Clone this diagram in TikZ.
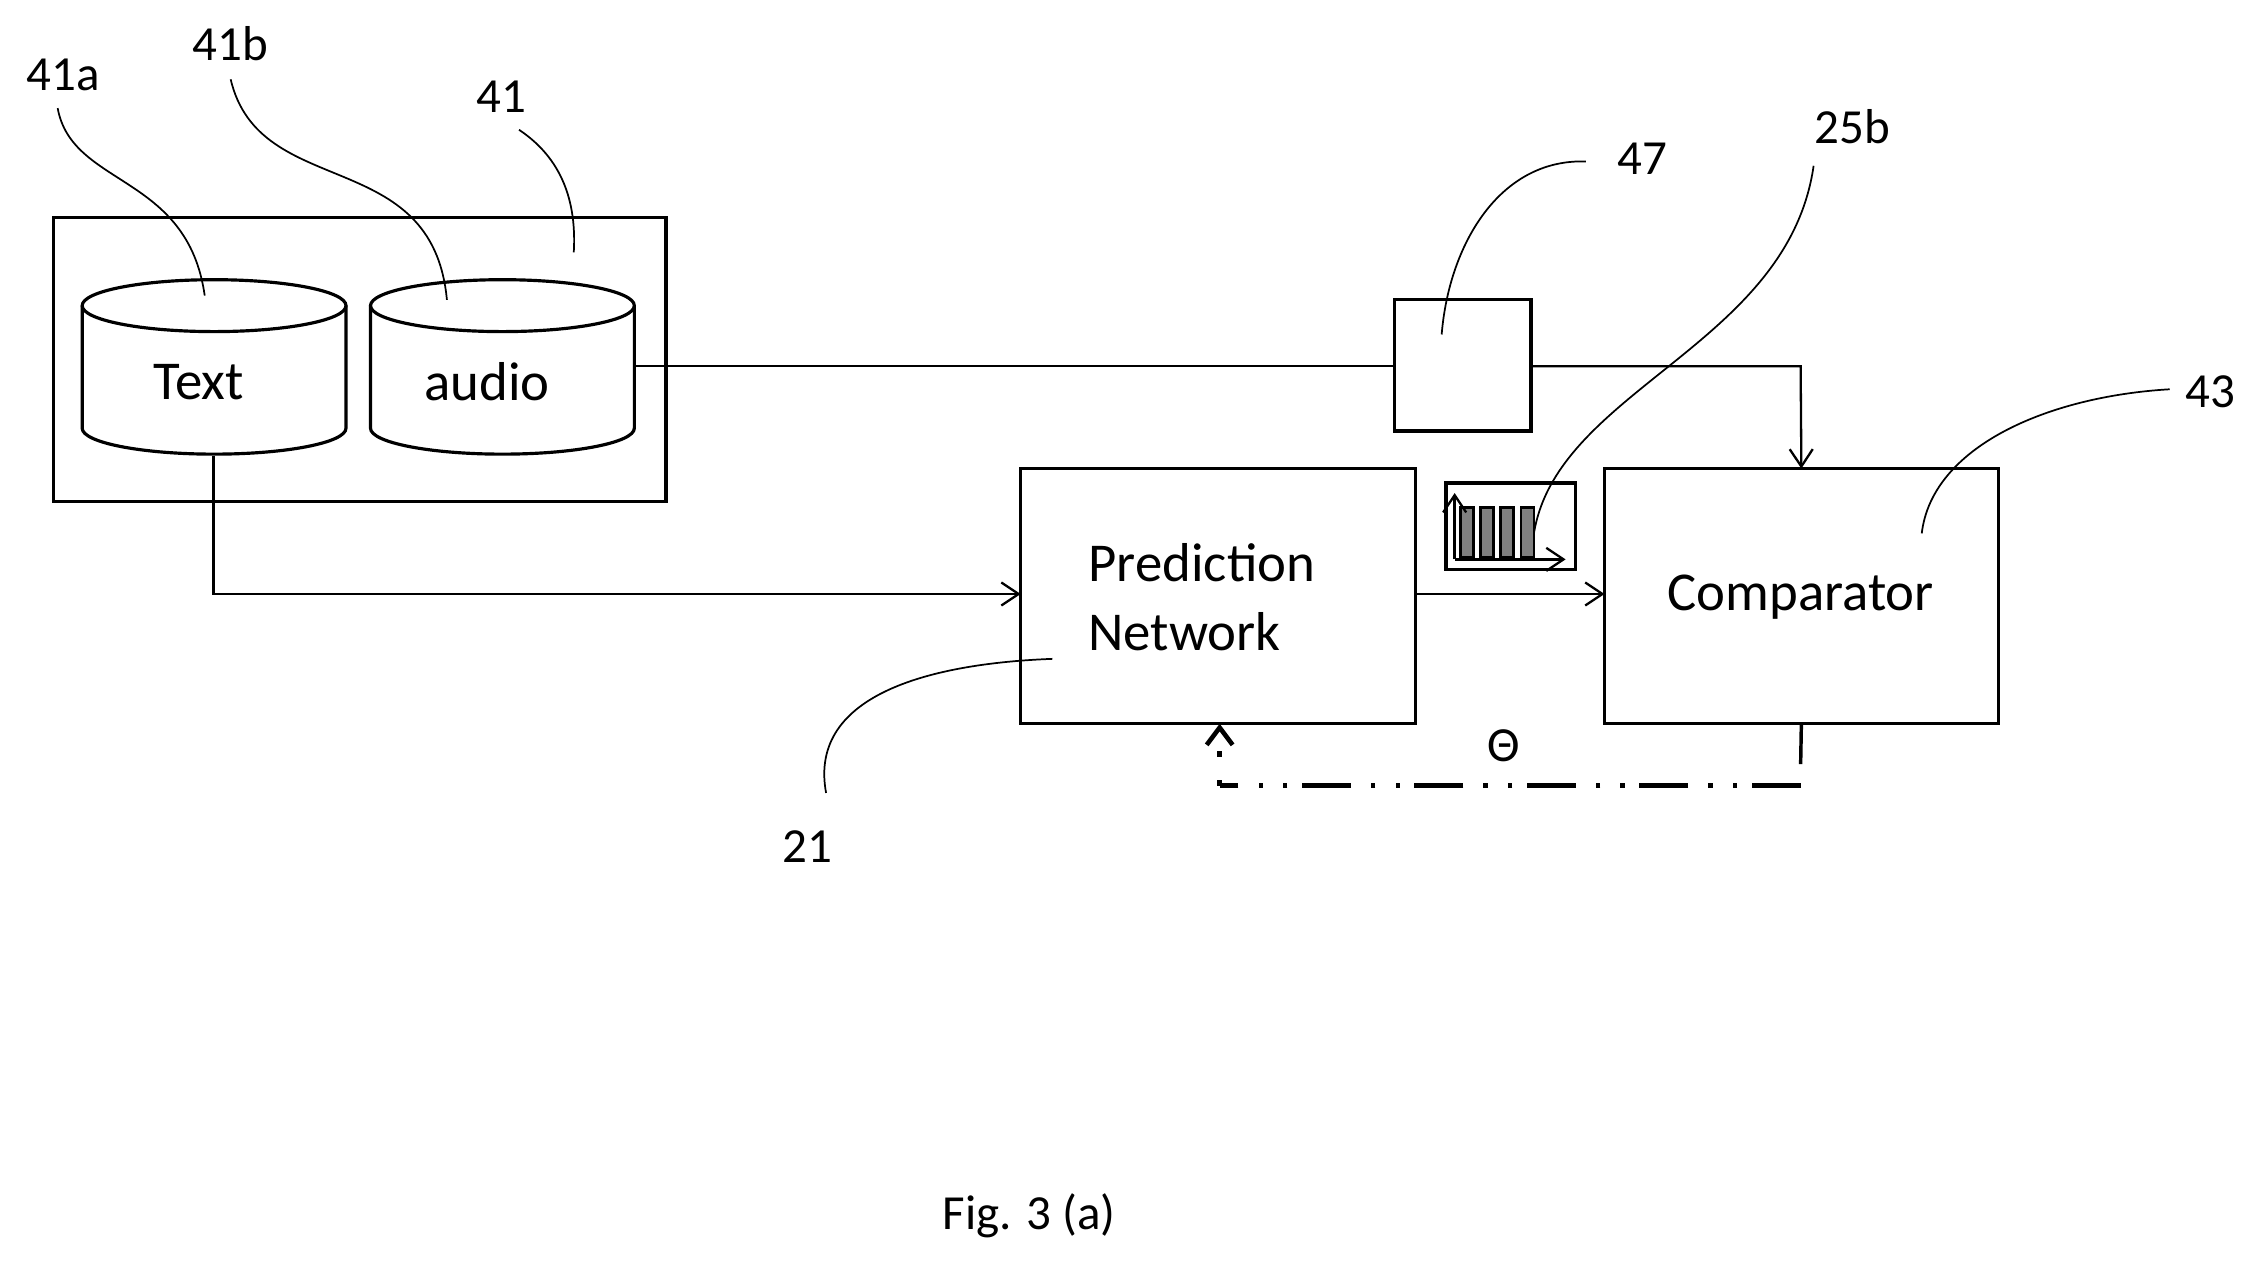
\documentclass[tikz,border=0pt]{standalone}
\usepackage{fontspec}
\setmainfont{Carlito}
\usetikzlibrary{arrows.meta}
\begin{document}
\begin{tikzpicture}[x=0.5pt,y=-0.5pt,
  box/.style={draw,line width=1.1pt},
  ln/.style={line width=0.8pt},
  arr/.style={ln,-{Straight Barb[length=6pt,width=8pt]}},
  lead/.style={line width=0.6pt},
  lab/.style={font=\fontsize{17}{20}\selectfont},
  big/.style={font=\fontsize{19}{22}\selectfont}]
\useasboundingbox (0,0) rectangle (1560,875);
\draw[box] (37,151) rectangle (462,348);
\node[inner sep=0] (b41) at (249.5,249.5) {};
% cylinders
\foreach \cx/\nm in {148.5/txt,348.5/aud}{
  \draw[box] (\cx-91.5,212) -- (\cx-91.5,297) arc[start angle=180,end angle=360,x radius=91.5,y radius=-18] -- (\cx+91.5,212);
  \draw[box] (\cx,212) ellipse[x radius=91.5,y radius=18];
}
\coordinate (txt) at (148,316);
\coordinate (aud) at (440,254);
\node[big] (ttxt) at (138,265) {Text};
\node[big] (taud) at (338,265) {audio};
\node[box,minimum width=47.5pt,minimum height=45.5pt,inner sep=0,outer sep=0] (b47) at (1014.5,253.5) {};
\node[box,minimum width=137pt,minimum height=88.5pt,inner sep=0,outer sep=0] (pn) at (845,413.5) {};
\node[big,align=left,anchor=west] (pnt) at (748,414) {Prediction\\[2pt]Network};
\node[box,minimum width=136.5pt,minimum height=88.5pt,inner sep=0,outer sep=0] (cmp) at (1249.5,413.5) {};
\node[big] (cmpt) at (1249,414) {Comparator};
\node[box,minimum width=45pt,minimum height=30pt,inner sep=0,outer sep=0] (spec) at (1048,365) {};
\foreach \i in {0,1,2,3}{
  \fill[black!50,draw=black,line width=1pt] (1013+\i*14,352) rectangle (1022+\i*14,387);}
\draw[arr] (1009,388) -- (1009,342);
\draw[arr] (1009,388) -- (1086,388);
% connectors
\coordinate (c1) at (1249,254);
\draw[ln] (aud) -- (b47.west |- aud);
\draw[arr] (b47.east |- 0,254) -- (c1) -- (cmp.north);
\coordinate (c2) at (148,412);
\draw[arr] (txt) -- (c2) -- (pn.west |- c2);
\draw[arr] (pn.east |- 0,412) -- (cmp.west |- 0,412);
\coordinate (f1) at (1249,545);
\coordinate (f2) at (846,545);
\draw[line width=1.2pt] (cmp.south) -- (1249,530);
\draw[line width=1.8pt,dash pattern=on 17pt off 5pt on 1.5pt off 7pt on 1.5pt off 7pt] (f1) -- (f2);
\draw[line width=1.6pt,dash pattern=on 2pt off 8pt,-{Straight Barb[length=6pt,width=9pt]}] (f2) -- (pn.south -| f2);
\node[lab] (th) at (1043,517) {Θ};
% labels
\node[lab] (l41a) at (44,52) {41a};
\node[lab] (l41b) at (160,30) {41b};
\node[lab] (l41) at (348,67) {41};
\node[lab] (l47) at (1139,110) {47};
\node[lab] (l25b) at (1285,88) {25b};
\node[lab] (l43) at (1533,272) {43};
\node[lab] (l21) at (560,587) {21};
\node[lab] (fig) at (714,843) {Fig. 3 (a)};
\draw[lead] (40,75) .. controls (50,130) and (130,120) .. (142,205);
\draw[lead] (160,55) .. controls (180,140) and (300,100) .. (310,208);
\draw[lead] (360,90) .. controls (390,110) and (400,140) .. (398,175);
\draw[lead] (1100,112) .. controls (1040,110) and (1005,170) .. (1000,232);
\draw[lead] (1258,115) .. controls (1240,240) and (1080,270) .. (1064,370);
\draw[lead] (1505,270) .. controls (1420,275) and (1340,310) .. (1333,370);
\draw[lead] (573,550) .. controls (560,480) and (650,460) .. (730,457);
\end{tikzpicture}
\end{document}
